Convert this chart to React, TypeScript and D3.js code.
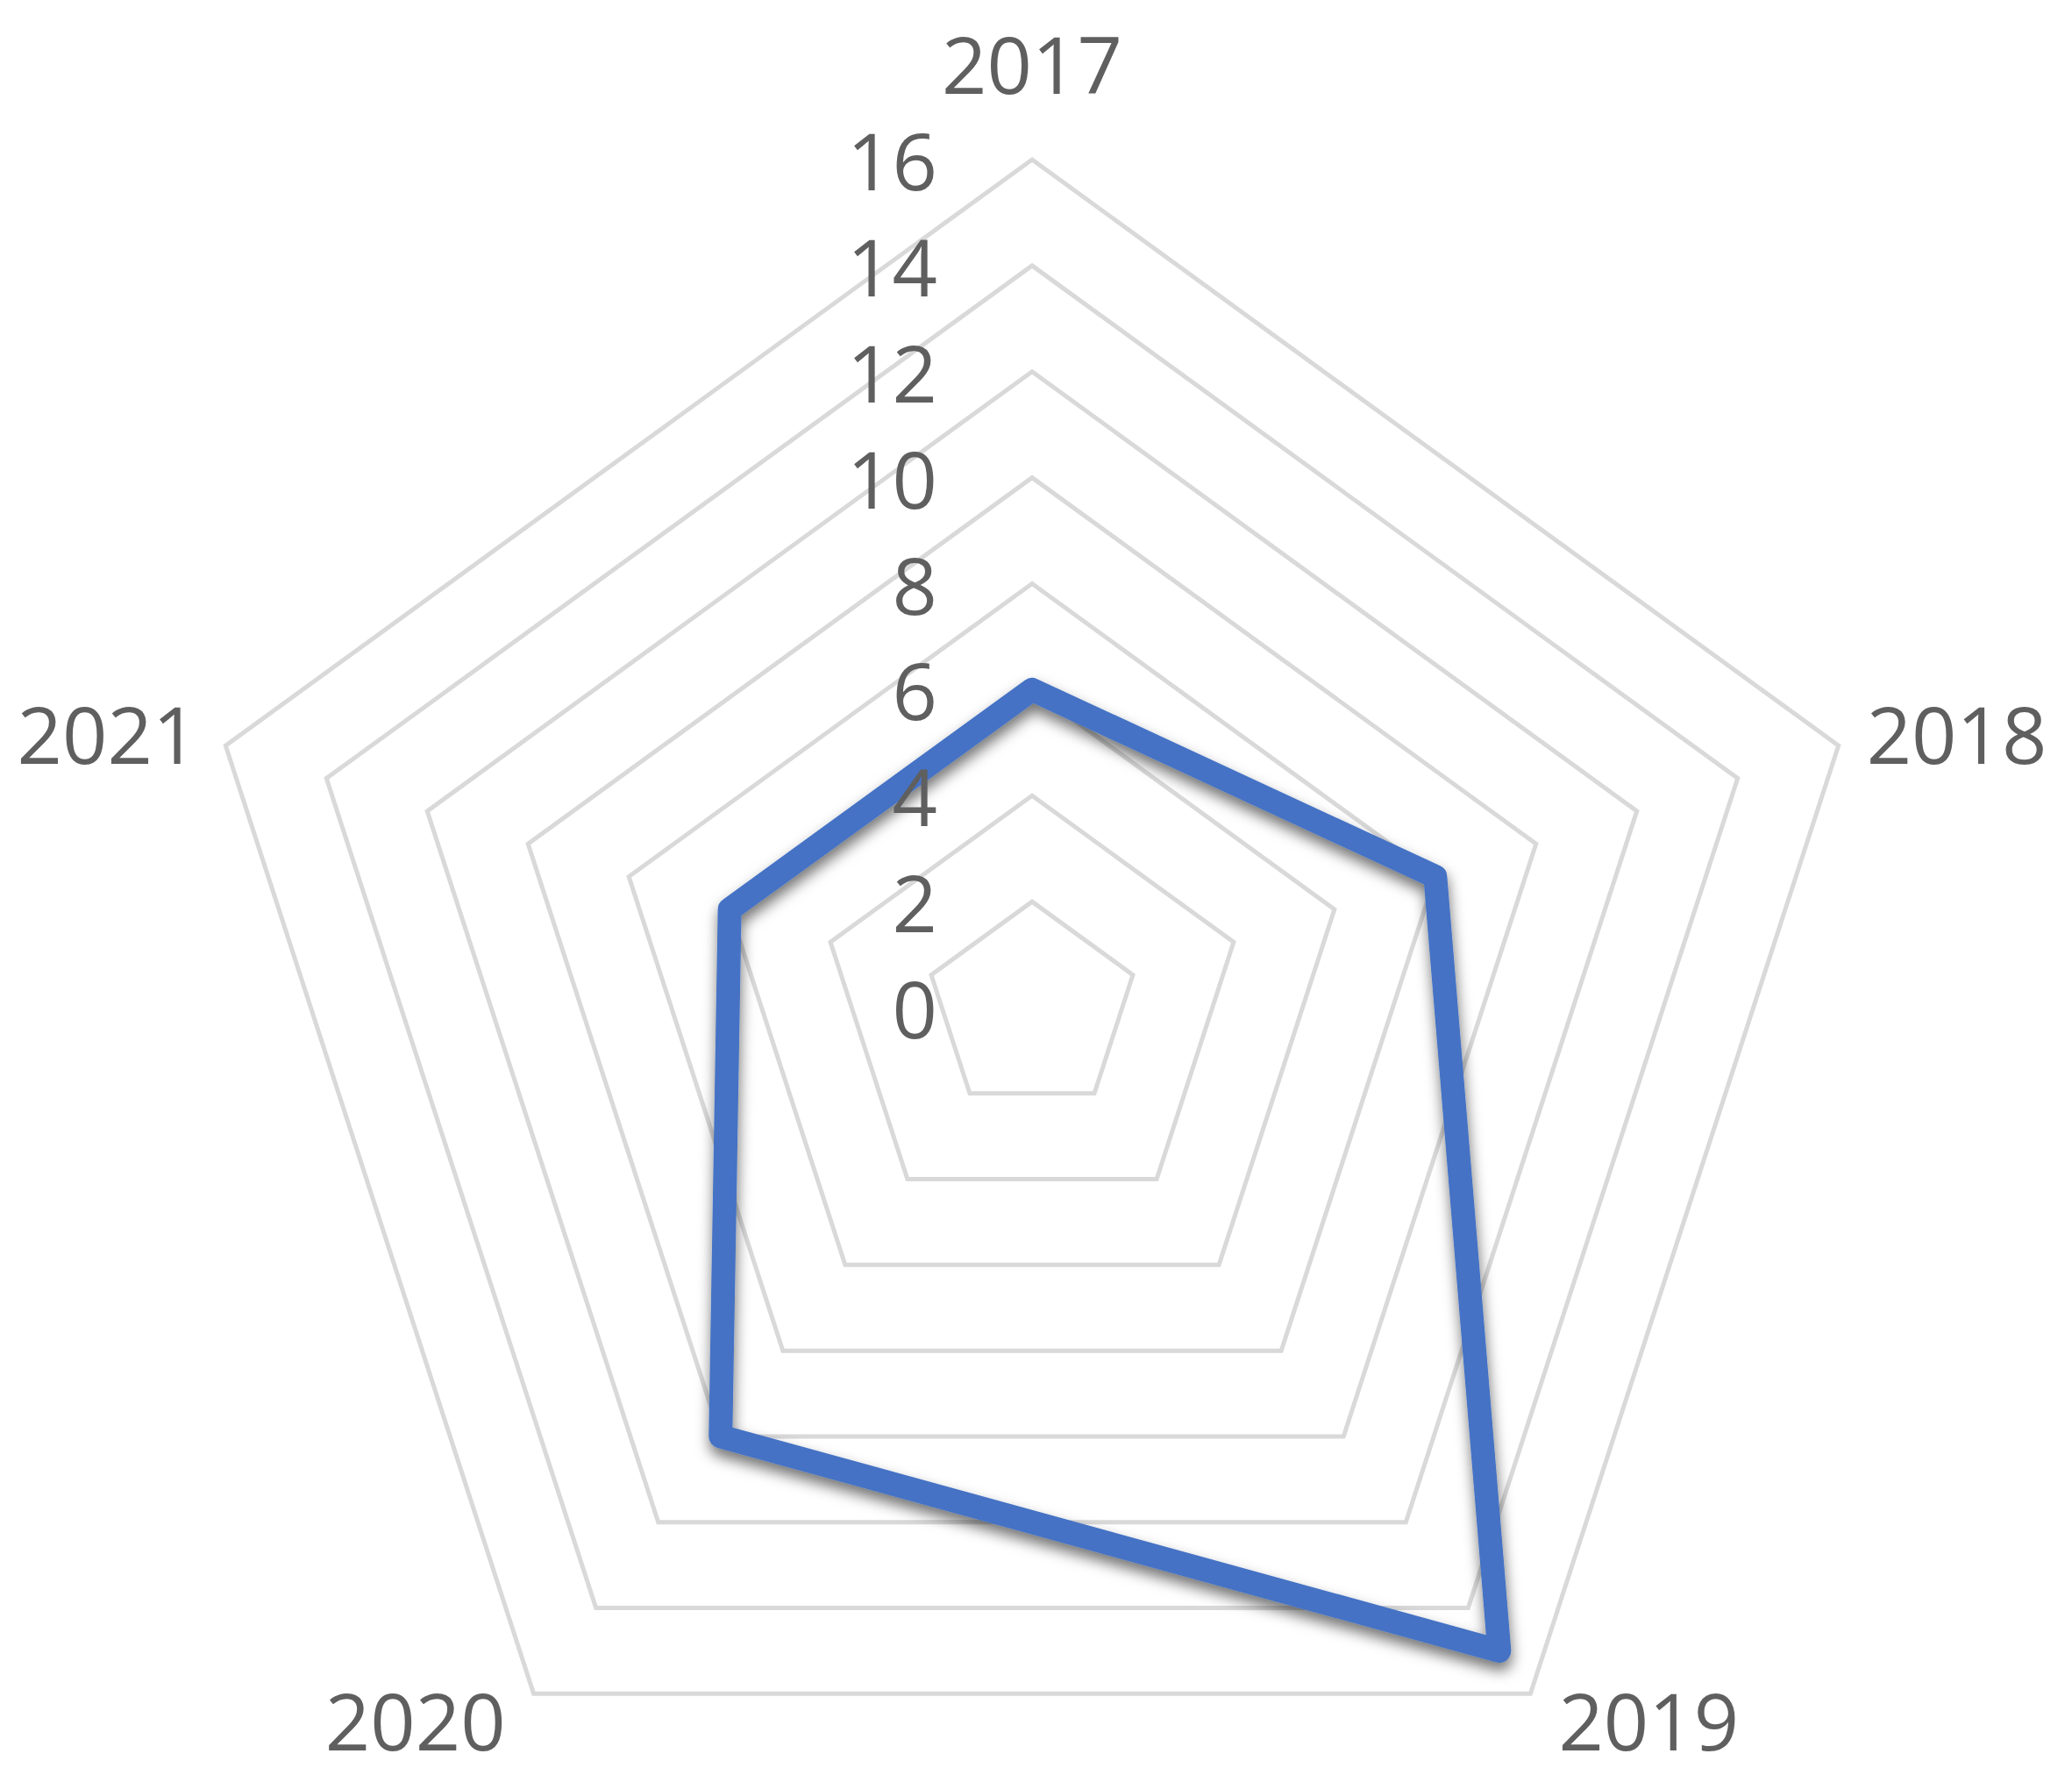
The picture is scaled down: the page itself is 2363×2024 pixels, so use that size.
import { useEffect } from "react";
import { scaleLinear, lineRadial, curveLinearClosed, range } from "d3";

const WIDTH = 2363;
const HEIGHT = 2024;
const CX = 1177;
const CY = 1149;
const RADIUS = 967;

const categories = ["2017", "2018", "2019", "2020", "2021"];
const values = [6, 8, 15, 10, 6];
const tickValues = [0, 2, 4, 6, 8, 10, 12, 14, 16];
const maxValue = 16;

const TEXT = "#5f5f5f";
const GRID = "#D9D9D9";
const SERIES = "#4472C4";
const FONT = "'Open Sans', 'Liberation Sans', sans-serif";

export default function App() {
  useEffect(() => {
    document.body.style.margin = "0";
    document.body.style.overflow = "hidden";
  }, []);

  const r = scaleLinear().domain([0, maxValue]).range([0, RADIUS]);
  const step = (2 * Math.PI) / categories.length;
  const angle = (i) => i * step;

  const ring = (v) =>
    lineRadial()
      .angle((_, i) => angle(i))
      .radius(() => r(v))
      .curve(curveLinearClosed)(categories);

  const series = lineRadial()
    .angle((_, i) => angle(i))
    .radius((d) => r(d))
    .curve(curveLinearClosed)(values);

  // Excel-style label placement just outside each outer vertex
  const labelPos = (i) => {
    const a = angle(i);
    const vx = Math.sin(a) * RADIUS;
    const vy = -Math.cos(a) * RADIUS;
    const c = Math.cos(a);
    const s = Math.sin(a);
    const anchor = Math.abs(s) < 0.1 ? "middle" : s > 0 ? "start" : "end";
    const x = vx + (Math.abs(s) < 0.1 ? 0 : s > 0 ? 32 : -32);
    const y = vy + (c > 0.9 ? -110 : c > 0 ? -14 : 30);
    return { x, y, anchor };
  };

  return (
    <svg width={WIDTH} height={HEIGHT} viewBox={`0 0 ${WIDTH} ${HEIGHT}`} style={{ display: "block", background: "#fff" }}>
      <defs>
        <filter id="shadow" x="-20%" y="-20%" width="140%" height="140%">
          <feDropShadow dx="1" dy="9" stdDeviation="8" floodColor="#000" floodOpacity="0.55" />
        </filter>
      </defs>
      <g transform={`translate(${CX},${CY})`}>
        {range(2, maxValue + 1, 2).map((v) => (
          <path key={v} d={ring(v)} fill="none" stroke={GRID} strokeWidth={5} />
        ))}
        <path d={series} fill="none" stroke={SERIES} strokeWidth={27} strokeLinejoin="round" filter="url(#shadow)" />
        {tickValues.map((t) => (
          <text
            key={t}
            x={-108}
            y={-r(t)}
            textAnchor="end"
            dominantBaseline="central"
            fontFamily={FONT}
            fontSize={90}
            fill={TEXT}
          >
            {t}
          </text>
        ))}
        {categories.map((c, i) => {
          const p = labelPos(i);
          return (
            <text
              key={c}
              x={p.x}
              y={p.y}
              textAnchor={p.anchor}
              dominantBaseline="central"
              fontFamily={FONT}
              fontSize={90}
              fill={TEXT}
            >
              {c}
            </text>
          );
        })}
      </g>
    </svg>
  );
}
